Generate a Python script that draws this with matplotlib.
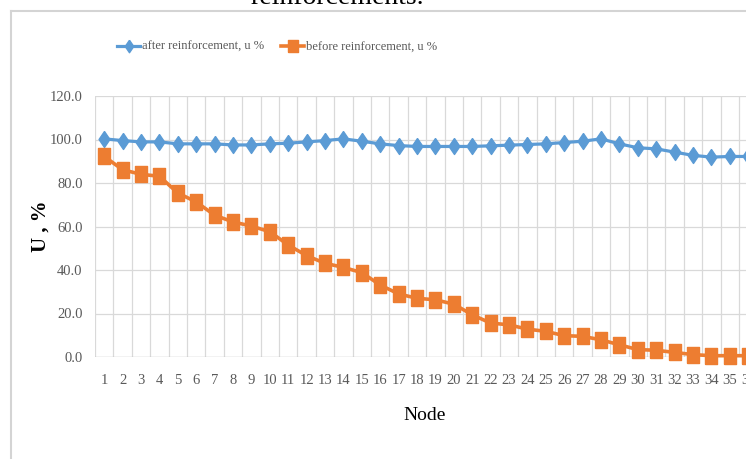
import matplotlib
matplotlib.use("Agg")
import matplotlib.pyplot as plt
from matplotlib.lines import Line2D
import numpy as np

nodes = list(range(1, 37))
after = [100.3, 99.5, 98.9, 98.9, 98.0, 98.0, 98.0, 97.5, 97.5, 98.0, 98.3, 98.9,
         99.5, 100.3, 99.2, 98.0, 97.2, 96.8, 96.8, 96.8, 96.8, 97.1, 97.4, 97.7,
         98.0, 98.6, 99.2, 100.3, 98.0, 96.2, 95.7, 94.2, 92.7, 91.9, 92.2, 92.2]
before = [92.2, 86.1, 84.0, 83.1, 75.4, 71.3, 65.2, 62.1, 60.2, 57.6, 51.5, 46.6,
          43.1, 41.2, 38.8, 33.1, 29.0, 27.0, 26.3, 24.3, 19.4, 15.6, 14.8, 12.8,
          11.8, 9.8, 9.5, 7.9, 5.6, 3.4, 3.1, 2.1, 1.1, 0.6, 0.6, 0.6]
y_ticks = [0, 20, 40, 60, 80, 100, 120]
series_names = ["after reinforcement, u %", "before reinforcement, u %"]

BLUE = "#5B9BD5"
ORANGE = "#ED7D31"
GRID = "#D9D9D9"
TXT = "#595959"
SERIF = ["Liberation Serif", "DejaVu Serif"]

W, H = 746, 459
fig = plt.figure(figsize=(W / 100, H / 100), dpi=100)

# axes placement (pixels -> fractions); plot runs past the right edge
left_px, right_px, top_px, bot_px = 95, 95 + 36 * 18.4, 96, 357
ax = fig.add_axes([left_px / W, 1 - bot_px / H, (right_px - left_px) / W, (bot_px - top_px) / H])

diamond = [(0, 1), (0.68, 0), (0, -1), (-0.68, 0), (0, 1)]
rect = [(-0.4, -0.5), (0.4, -0.5), (0.4, 0.5), (-0.4, 0.5), (-0.4, -0.5)]

ax.plot(nodes, after, color=BLUE, lw=2.3, marker=diamond, markersize=11.5,
        markerfacecolor=BLUE, markeredgecolor=BLUE, clip_on=False, zorder=3,
        label=series_names[0])
ax.plot(nodes, before, color=ORANGE, lw=2.6, marker=rect, markersize=11.3,
        markerfacecolor=ORANGE, markeredgecolor=ORANGE, clip_on=False, zorder=4,
        label=series_names[1])

ax.set_xlim(0.5, 36.5)
ax.set_ylim(0, 120)
ax.set_yticks(y_ticks)
ax.set_yticklabels([f"{v:.1f}" for v in y_ticks])
ax.set_xticks(nodes)
ax.set_xticklabels([str(n) for n in nodes])

# gridlines
for v in y_ticks[1:]:
    ax.axhline(v, color=GRID, lw=0.9, zorder=1)
for b in np.arange(0.5, 37.0, 1.0):
    ax.axvline(b, color=GRID, lw=0.9, zorder=1)
ax.axhline(0, color="#BFBFBF", lw=1.0, zorder=2)

for s in ax.spines.values():
    s.set_visible(False)
ax.tick_params(axis="both", length=0)
ax.tick_params(axis="y", pad=9)
ax.tick_params(axis="x", pad=12)
for lab in ax.get_yticklabels() + ax.get_xticklabels():
    lab.set_fontfamily(SERIF)
    lab.set_fontsize(10.5)
    lab.set_color(TXT)

ax.set_xlabel("Node", fontfamily=SERIF, fontsize=14, color="black", labelpad=14)
ax.set_ylabel("U , %", fontfamily=SERIF, fontsize=15, fontweight="bold",
              color="black", labelpad=8)
ax.xaxis.set_label_coords((425 - left_px) / (right_px - left_px), -(415 - bot_px) / (bot_px - top_px))
ax.yaxis.set_label_coords(-(left_px - 41) / (right_px - left_px), 0.5)
ax.xaxis.label.set_va("center")
ax.yaxis.label.set_va("center")

# legend
leg = fig.legend(loc="center", bbox_to_anchor=(277 / W, 1 - 47 / H), ncol=2,
                 frameon=False, prop={"family": SERIF, "size": 9},
                 handlelength=1.9, handletextpad=0.15, columnspacing=1.3,
                 labelcolor=TXT)
for h in leg.legend_handles:
    h.set_markersize(9)

# chart frame (light gray border)
fig.add_artist(Line2D([10.5 / W, 1], [1 - 10.5 / H, 1 - 10.5 / H], color="#D4D4D4", lw=1.5,
                      transform=fig.transFigure))
fig.add_artist(Line2D([10.5 / W, 10.5 / W], [0, 1 - 10.5 / H], color="#D4D4D4", lw=1.5,
                      transform=fig.transFigure))

# cut-off caption text at the top
fig.text(337 / W, 1 - 4 / H, "reinforcements.", fontfamily=SERIF, fontsize=20,
         color="black", ha="center", va="baseline")

fig.savefig("out.png", dpi=100)
